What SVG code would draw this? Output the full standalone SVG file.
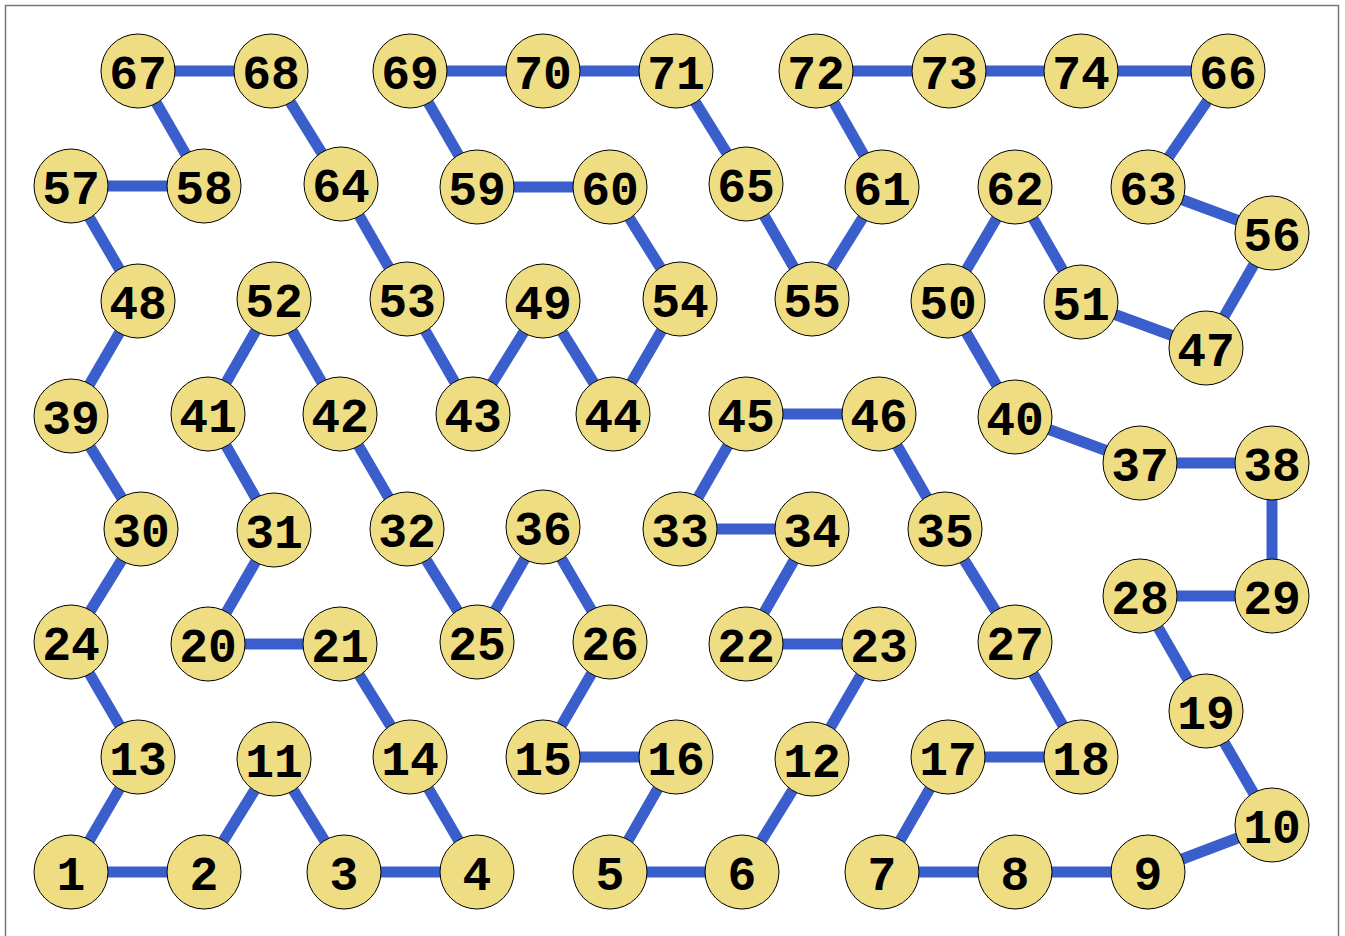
<svg xmlns="http://www.w3.org/2000/svg" width="1345" height="936" viewBox="0 0 1345 936">
<style>
.e{stroke:#3a5fcd;stroke-width:11;fill:none}
.n circle{fill:#eedd82;stroke:#000;stroke-width:1}
.n text{font-family:"Liberation Mono","Courier New",monospace;font-weight:bold;font-size:48px;text-anchor:middle;fill:#000}
</style>
<rect x="0" y="0" width="1345" height="936" fill="#fff"/>
<rect x="5.5" y="5.5" width="1333" height="940" fill="none" stroke="#777" stroke-width="1.5"/>
<g id="connectors">
<line class="e" x1="71" y1="872" x2="204" y2="872"/>
<line class="e" x1="71" y1="872" x2="138" y2="757"/>
<line class="e" x1="204" y1="872" x2="274" y2="759"/>
<line class="e" x1="274" y1="759" x2="344" y2="872"/>
<line class="e" x1="344" y1="872" x2="477" y2="872"/>
<line class="e" x1="477" y1="872" x2="410" y2="757"/>
<line class="e" x1="410" y1="757" x2="340" y2="644"/>
<line class="e" x1="340" y1="644" x2="208" y2="644"/>
<line class="e" x1="208" y1="644" x2="274" y2="530"/>
<line class="e" x1="274" y1="530" x2="208" y2="414"/>
<line class="e" x1="208" y1="414" x2="274" y2="299"/>
<line class="e" x1="274" y1="299" x2="340" y2="414"/>
<line class="e" x1="340" y1="414" x2="407" y2="529"/>
<line class="e" x1="407" y1="529" x2="477" y2="642"/>
<line class="e" x1="477" y1="642" x2="543" y2="527"/>
<line class="e" x1="543" y1="527" x2="610" y2="642"/>
<line class="e" x1="610" y1="642" x2="543" y2="757"/>
<line class="e" x1="543" y1="757" x2="676" y2="757"/>
<line class="e" x1="676" y1="757" x2="610" y2="872"/>
<line class="e" x1="610" y1="872" x2="742" y2="872"/>
<line class="e" x1="742" y1="872" x2="812" y2="759"/>
<line class="e" x1="812" y1="759" x2="879" y2="644"/>
<line class="e" x1="879" y1="644" x2="746" y2="644"/>
<line class="e" x1="746" y1="644" x2="812" y2="529"/>
<line class="e" x1="812" y1="529" x2="680" y2="529"/>
<line class="e" x1="680" y1="529" x2="746" y2="414"/>
<line class="e" x1="746" y1="414" x2="879" y2="414"/>
<line class="e" x1="879" y1="414" x2="945" y2="529"/>
<line class="e" x1="945" y1="529" x2="1015" y2="642"/>
<line class="e" x1="1015" y1="642" x2="1081" y2="757"/>
<line class="e" x1="1081" y1="757" x2="948" y2="757"/>
<line class="e" x1="948" y1="757" x2="882" y2="872"/>
<line class="e" x1="882" y1="872" x2="1015" y2="872"/>
<line class="e" x1="1015" y1="872" x2="1148" y2="872"/>
<line class="e" x1="1148" y1="872" x2="1272" y2="825"/>
<line class="e" x1="1272" y1="825" x2="1206" y2="711"/>
<line class="e" x1="1206" y1="711" x2="1140" y2="596"/>
<line class="e" x1="1140" y1="596" x2="1272" y2="596"/>
<line class="e" x1="1272" y1="596" x2="1272" y2="463"/>
<line class="e" x1="1272" y1="463" x2="1140" y2="463"/>
<line class="e" x1="1140" y1="463" x2="1015" y2="417"/>
<line class="e" x1="1015" y1="417" x2="948" y2="301"/>
<line class="e" x1="948" y1="301" x2="1015" y2="187"/>
<line class="e" x1="1015" y1="187" x2="1081" y2="302"/>
<line class="e" x1="1081" y1="302" x2="1206" y2="348"/>
<line class="e" x1="1206" y1="348" x2="1272" y2="233"/>
<line class="e" x1="1272" y1="233" x2="1148" y2="187"/>
<line class="e" x1="1148" y1="187" x2="1228" y2="71"/>
<line class="e" x1="1228" y1="71" x2="1081" y2="71"/>
<line class="e" x1="1081" y1="71" x2="949" y2="71"/>
<line class="e" x1="949" y1="71" x2="816" y2="71"/>
<line class="e" x1="816" y1="71" x2="882" y2="187"/>
<line class="e" x1="882" y1="187" x2="812" y2="299"/>
<line class="e" x1="812" y1="299" x2="746" y2="184"/>
<line class="e" x1="746" y1="184" x2="676" y2="71"/>
<line class="e" x1="676" y1="71" x2="543" y2="71"/>
<line class="e" x1="543" y1="71" x2="410" y2="71"/>
<line class="e" x1="410" y1="71" x2="477" y2="187"/>
<line class="e" x1="477" y1="187" x2="610" y2="187"/>
<line class="e" x1="610" y1="187" x2="680" y2="299"/>
<line class="e" x1="680" y1="299" x2="613" y2="414"/>
<line class="e" x1="613" y1="414" x2="543" y2="301"/>
<line class="e" x1="543" y1="301" x2="473" y2="414"/>
<line class="e" x1="473" y1="414" x2="407" y2="299"/>
<line class="e" x1="407" y1="299" x2="341" y2="184"/>
<line class="e" x1="341" y1="184" x2="271" y2="71"/>
<line class="e" x1="271" y1="71" x2="138" y2="71"/>
<line class="e" x1="138" y1="71" x2="204" y2="186"/>
<line class="e" x1="204" y1="186" x2="71" y2="186"/>
<line class="e" x1="71" y1="186" x2="138" y2="301"/>
<line class="e" x1="138" y1="301" x2="71" y2="416"/>
<line class="e" x1="71" y1="416" x2="141" y2="529"/>
<line class="e" x1="141" y1="529" x2="71" y2="642"/>
<line class="e" x1="71" y1="642" x2="138" y2="757"/>
</g>
<g id="n1" class="n"><circle cx="71" cy="872" r="37"/><text x="71" y="890">1</text></g>
<g id="n2" class="n"><circle cx="204" cy="872" r="37"/><text x="204" y="890">2</text></g>
<g id="n3" class="n"><circle cx="344" cy="872" r="37"/><text x="344" y="890">3</text></g>
<g id="n4" class="n"><circle cx="477" cy="872" r="37"/><text x="477" y="890">4</text></g>
<g id="n5" class="n"><circle cx="610" cy="872" r="37"/><text x="610" y="890">5</text></g>
<g id="n6" class="n"><circle cx="742" cy="872" r="37"/><text x="742" y="890">6</text></g>
<g id="n7" class="n"><circle cx="882" cy="872" r="37"/><text x="882" y="890">7</text></g>
<g id="n8" class="n"><circle cx="1015" cy="872" r="37"/><text x="1015" y="890">8</text></g>
<g id="n9" class="n"><circle cx="1148" cy="872" r="37"/><text x="1148" y="890">9</text></g>
<g id="n10" class="n"><circle cx="1272" cy="825" r="37"/><text x="1272" y="843">10</text></g>
<g id="n11" class="n"><circle cx="274" cy="759" r="37"/><text x="274" y="777">11</text></g>
<g id="n12" class="n"><circle cx="812" cy="759" r="37"/><text x="812" y="777">12</text></g>
<g id="n13" class="n"><circle cx="138" cy="757" r="37"/><text x="138" y="775">13</text></g>
<g id="n14" class="n"><circle cx="410" cy="757" r="37"/><text x="410" y="775">14</text></g>
<g id="n15" class="n"><circle cx="543" cy="757" r="37"/><text x="543" y="775">15</text></g>
<g id="n16" class="n"><circle cx="676" cy="757" r="37"/><text x="676" y="775">16</text></g>
<g id="n17" class="n"><circle cx="948" cy="757" r="37"/><text x="948" y="775">17</text></g>
<g id="n18" class="n"><circle cx="1081" cy="757" r="37"/><text x="1081" y="775">18</text></g>
<g id="n19" class="n"><circle cx="1206" cy="711" r="37"/><text x="1206" y="729">19</text></g>
<g id="n20" class="n"><circle cx="208" cy="644" r="37"/><text x="208" y="662">20</text></g>
<g id="n21" class="n"><circle cx="340" cy="644" r="37"/><text x="340" y="662">21</text></g>
<g id="n22" class="n"><circle cx="746" cy="644" r="37"/><text x="746" y="662">22</text></g>
<g id="n23" class="n"><circle cx="879" cy="644" r="37"/><text x="879" y="662">23</text></g>
<g id="n24" class="n"><circle cx="71" cy="642" r="37"/><text x="71" y="660">24</text></g>
<g id="n25" class="n"><circle cx="477" cy="642" r="37"/><text x="477" y="660">25</text></g>
<g id="n26" class="n"><circle cx="610" cy="642" r="37"/><text x="610" y="660">26</text></g>
<g id="n27" class="n"><circle cx="1015" cy="642" r="37"/><text x="1015" y="660">27</text></g>
<g id="n28" class="n"><circle cx="1140" cy="596" r="37"/><text x="1140" y="614">28</text></g>
<g id="n29" class="n"><circle cx="1272" cy="596" r="37"/><text x="1272" y="614">29</text></g>
<g id="n30" class="n"><circle cx="141" cy="529" r="37"/><text x="141" y="547">30</text></g>
<g id="n31" class="n"><circle cx="274" cy="530" r="37"/><text x="274" y="548">31</text></g>
<g id="n32" class="n"><circle cx="407" cy="529" r="37"/><text x="407" y="547">32</text></g>
<g id="n33" class="n"><circle cx="680" cy="529" r="37"/><text x="680" y="547">33</text></g>
<g id="n34" class="n"><circle cx="812" cy="529" r="37"/><text x="812" y="547">34</text></g>
<g id="n35" class="n"><circle cx="945" cy="529" r="37"/><text x="945" y="547">35</text></g>
<g id="n36" class="n"><circle cx="543" cy="527" r="37"/><text x="543" y="545">36</text></g>
<g id="n37" class="n"><circle cx="1140" cy="463" r="37"/><text x="1140" y="481">37</text></g>
<g id="n38" class="n"><circle cx="1272" cy="463" r="37"/><text x="1272" y="481">38</text></g>
<g id="n39" class="n"><circle cx="71" cy="416" r="37"/><text x="71" y="434">39</text></g>
<g id="n40" class="n"><circle cx="1015" cy="417" r="37"/><text x="1015" y="435">40</text></g>
<g id="n41" class="n"><circle cx="208" cy="414" r="37"/><text x="208" y="432">41</text></g>
<g id="n42" class="n"><circle cx="340" cy="414" r="37"/><text x="340" y="432">42</text></g>
<g id="n43" class="n"><circle cx="473" cy="414" r="37"/><text x="473" y="432">43</text></g>
<g id="n44" class="n"><circle cx="613" cy="414" r="37"/><text x="613" y="432">44</text></g>
<g id="n45" class="n"><circle cx="746" cy="414" r="37"/><text x="746" y="432">45</text></g>
<g id="n46" class="n"><circle cx="879" cy="414" r="37"/><text x="879" y="432">46</text></g>
<g id="n47" class="n"><circle cx="1206" cy="348" r="37"/><text x="1206" y="366">47</text></g>
<g id="n48" class="n"><circle cx="138" cy="301" r="37"/><text x="138" y="319">48</text></g>
<g id="n49" class="n"><circle cx="543" cy="301" r="37"/><text x="543" y="319">49</text></g>
<g id="n50" class="n"><circle cx="948" cy="301" r="37"/><text x="948" y="319">50</text></g>
<g id="n51" class="n"><circle cx="1081" cy="302" r="37"/><text x="1081" y="320">51</text></g>
<g id="n52" class="n"><circle cx="274" cy="299" r="37"/><text x="274" y="317">52</text></g>
<g id="n53" class="n"><circle cx="407" cy="299" r="37"/><text x="407" y="317">53</text></g>
<g id="n54" class="n"><circle cx="680" cy="299" r="37"/><text x="680" y="317">54</text></g>
<g id="n55" class="n"><circle cx="812" cy="299" r="37"/><text x="812" y="317">55</text></g>
<g id="n56" class="n"><circle cx="1272" cy="233" r="37"/><text x="1272" y="251">56</text></g>
<g id="n57" class="n"><circle cx="71" cy="186" r="37"/><text x="71" y="204">57</text></g>
<g id="n58" class="n"><circle cx="204" cy="186" r="37"/><text x="204" y="204">58</text></g>
<g id="n59" class="n"><circle cx="477" cy="187" r="37"/><text x="477" y="205">59</text></g>
<g id="n60" class="n"><circle cx="610" cy="187" r="37"/><text x="610" y="205">60</text></g>
<g id="n61" class="n"><circle cx="882" cy="187" r="37"/><text x="882" y="205">61</text></g>
<g id="n62" class="n"><circle cx="1015" cy="187" r="37"/><text x="1015" y="205">62</text></g>
<g id="n63" class="n"><circle cx="1148" cy="187" r="37"/><text x="1148" y="205">63</text></g>
<g id="n64" class="n"><circle cx="341" cy="184" r="37"/><text x="341" y="202">64</text></g>
<g id="n65" class="n"><circle cx="746" cy="184" r="37"/><text x="746" y="202">65</text></g>
<g id="n66" class="n"><circle cx="1228" cy="71" r="37"/><text x="1228" y="89">66</text></g>
<g id="n67" class="n"><circle cx="138" cy="71" r="37"/><text x="138" y="89">67</text></g>
<g id="n68" class="n"><circle cx="271" cy="71" r="37"/><text x="271" y="89">68</text></g>
<g id="n69" class="n"><circle cx="410" cy="71" r="37"/><text x="410" y="89">69</text></g>
<g id="n70" class="n"><circle cx="543" cy="71" r="37"/><text x="543" y="89">70</text></g>
<g id="n71" class="n"><circle cx="676" cy="71" r="37"/><text x="676" y="89">71</text></g>
<g id="n72" class="n"><circle cx="816" cy="71" r="37"/><text x="816" y="89">72</text></g>
<g id="n73" class="n"><circle cx="949" cy="71" r="37"/><text x="949" y="89">73</text></g>
<g id="n74" class="n"><circle cx="1081" cy="71" r="37"/><text x="1081" y="89">74</text></g>
</svg>
